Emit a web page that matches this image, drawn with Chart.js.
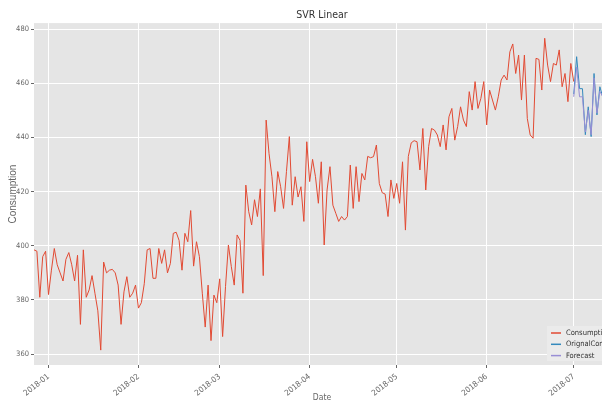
<!DOCTYPE html>
<html>
<head>
<meta charset="utf-8">
<script src="https://cdn.jsdelivr.net/npm/chart.js@4.4.0/dist/chart.umd.min.js"></script>
<style>
  html, body { margin: 0; padding: 0; background: #fff; overflow: hidden; }
  #wrap { width: 602px; height: 403px; overflow: hidden; }
  #graph-container { width: 625px; height: 403px; position: relative; }
</style>
</head>
<body>
<div id="wrap"><div id="graph-container"><canvas id="graph"></canvas></div></div>
<script>
// data (daily values)
const startDate = '2017-12-27';
const forecastStart = '2018-07-01';
const monthTicks = ['2018-01', '2018-02', '2018-03', '2018-04', '2018-05', '2018-06', '2018-07'];
const yTicks = [360, 380, 400, 420, 440, 460, 480];
const seriesNames = ['Consumption', 'OrignalConsumption', 'Forecast'];

const consumption = [
  398.5, 398, 381, 396, 398, 382, 391, 399, 393, 390,
  387, 395, 397.5, 393, 387, 396.5, 371, 398.5, 381, 383.7,
  389, 382.5, 376, 361.5, 394, 390, 391, 391.3, 390, 385.5,
  371, 383, 388.6, 381, 382.5, 385.5, 377, 379, 386, 398.5,
  399, 388, 388, 399, 393.5, 398.5, 390, 393.5, 404.6, 405,
  402, 391, 404.6, 401.5, 413, 392.5, 401.5, 396, 382.5, 370,
  385.5, 365, 381.8, 379, 387.8, 366.5, 385,
  400.3, 392.3, 385.5, 404, 402, 382.5, 422.4, 412.6, 407.7, 417,
  410.8, 421, 389, 446.4, 434, 425.5, 412.6, 427.4, 421.8, 413.8,
  427.4, 440.3, 415, 425.5, 418, 421.8, 409, 438.4, 423.7, 431.9,
  425.5, 415.7, 431, 400.3, 420.6, 429.2, 415, 412, 409, 410.8,
  409.5, 410.8, 429.8, 413.8, 429.2, 416.3, 426.7, 424.3, 433, 432.5,
  432.9, 437.2, 423, 419.6, 419.1, 410.8, 424.3, 417.5, 423, 415.7,
  431, 405.8,
  433, 438, 438.8, 438.4, 428, 443.3, 420.6, 436.6, 443.3, 442.7,
  440.9, 436.6, 444.6, 435.4, 447.6, 450.7, 439, 444, 451.3, 446.4,
  444, 456.9, 450.1, 460.6, 450.7, 454.4, 460.6, 444.6, 457.5, 453.8,
  450.1, 455, 461.2, 463, 461.2, 471.6, 474.5, 463.6, 470.4, 453.8,
  470.4, 447, 440.9, 439.7, 469.2, 468.8, 457.5, 476.6, 466.7, 460.6,
  467.3, 466.7, 472.3, 458.7, 463.6, 453.2, 467.3, 460.6
];
const originalConsumption = [456, 469.8, 458, 458, 441, 451.3, 440.3, 463.6, 448.3, 458.7, 455];
const forecast = [455, 466, 455, 455, 442, 450, 441, 462, 449, 457, 455];

style = {
  red: '#E24A33',
  blue: '#348ABD',
  purple: '#988ED5',
  panel: '#E5E5E5',
  text: '#666666',
  narrow: "'Liberation Sans Narrow', 'DejaVu Sans Condensed', sans-serif",
  font: "'Liberation Sans', sans-serif"
}

// days since 2018-01-01
const dayNum = (s) => {
  const p = s.split('-').map(Number);
  return (Date.UTC(p[0], p[1] - 1, p[2] || 1) - Date.UTC(2018, 0, 1)) / 86400000;
};

const toPoints = (values, from) => {
  const d0 = dayNum(from);
  return values.map((v, i) => ({ x: d0 + i, y: v }));
};

const tickDays = monthTicks.map(dayNum);

// legend drawn inside the plot, bottom right
const boxLegend = {
  id: 'boxLegend',
  afterDatasetsDraw(chart) {
    const ctx = chart.ctx;
    const a = chart.chartArea;
    const x0 = a.right - 63, y0 = a.bottom - 39;
    ctx.save();
    ctx.fillStyle = '#ebebeb';
    ctx.fillRect(x0, y0, 80, 35);
    ctx.font = '7.5px ' + style.narrow;
    ctx.textBaseline = 'middle';
    chart.data.datasets.forEach((ds, i) => {
      const y = y0 + 7 + i * 11.3;
      ctx.strokeStyle = ds.borderColor;
      ctx.lineWidth = 1.5;
      ctx.beginPath();
      ctx.moveTo(x0 + 4, y);
      ctx.lineTo(x0 + 14, y);
      ctx.stroke();
      ctx.fillStyle = '#333';
      ctx.fillText(ds.label, x0 + 19, y);
    });
    ctx.restore();
  }
};

const panelBg = {
  id: 'panelBg',
  beforeDraw(chart) {
    const a = chart.chartArea;
    chart.ctx.save();
    chart.ctx.fillStyle = style.panel;
    chart.ctx.fillRect(a.left, a.top, a.right - a.left, a.bottom - a.top);
    chart.ctx.restore();
  }
};

const data = {
  datasets: [{
    label: seriesNames[0],
    data: toPoints(consumption, startDate),
    borderColor: style.red,
    order: 3
  }, {
    label: seriesNames[1],
    data: toPoints(originalConsumption, forecastStart),
    borderColor: style.blue,
    order: 2
  }, {
    label: seriesNames[2],
    data: toPoints(forecast, forecastStart),
    borderColor: style.purple,
    order: 1
  }]
};

const config = {
  type: 'line',
  data,
  plugins: [panelBg, boxLegend],
  options: {
    responsive: true,
    maintainAspectRatio: false,
    animation: false,
    layout: { padding: { left: 0, right: 15, top: 0, bottom: 0 } },
    elements: {
      line: { borderWidth: 1, tension: 0 },
      point: { radius: 0 }
    },
    plugins: {
      legend: { display: false },
      tooltip: { enabled: false },
      title: {
        display: true,
        text: 'SVR Linear',
        fullSize: false,
        color: '#333',
        font: { family: style.narrow, size: 10.5, weight: 'normal' },
        padding: { top: 8.5, bottom: 2 }
      }
    },
    scales: {
      x: {
        type: 'linear',
        min: -5,
        max: 193.5,
        afterBuildTicks: (s) => { s.ticks = tickDays.map(v => ({ value: v })); },
        afterFit: (s) => { s.height = 38; },
        grid: { color: '#ffffff', lineWidth: 1, tickColor: style.text, tickLength: 3 },
        border: { display: false },
        ticks: {
          autoSkip: false,
          minRotation: 38,
          maxRotation: 38,
          padding: 4,
          color: style.text,
          font: { family: style.narrow, size: 8 },
          callback: (v) => monthTicks[tickDays.indexOf(v)] || ''
        },
        title: {
          display: true,
          text: 'Date',
          color: style.text,
          font: { family: style.narrow, size: 8.5 },
          padding: { top: 0, bottom: 0 }
        }
      },
      y: {
        min: 356,
        max: 482.2,
        afterBuildTicks: (s) => { s.ticks = yTicks.map(v => ({ value: v })); },
        afterFit: (s) => { s.width = 34; },
        grid: { color: '#ffffff', lineWidth: 1, tickColor: style.text, tickLength: 3 },
        border: { display: false },
        ticks: {
          padding: 2,
          color: style.text,
          font: { family: style.narrow, size: 7.5 }
        },
        title: {
          display: true,
          text: 'Consumption',
          color: style.text,
          font: { family: style.font, size: 10 },
          padding: { top: 7, bottom: 0 }
        }
      }
    }
  }
};

const graph = new Chart(document.getElementById('graph'), config);
</script>
</body>
</html>
